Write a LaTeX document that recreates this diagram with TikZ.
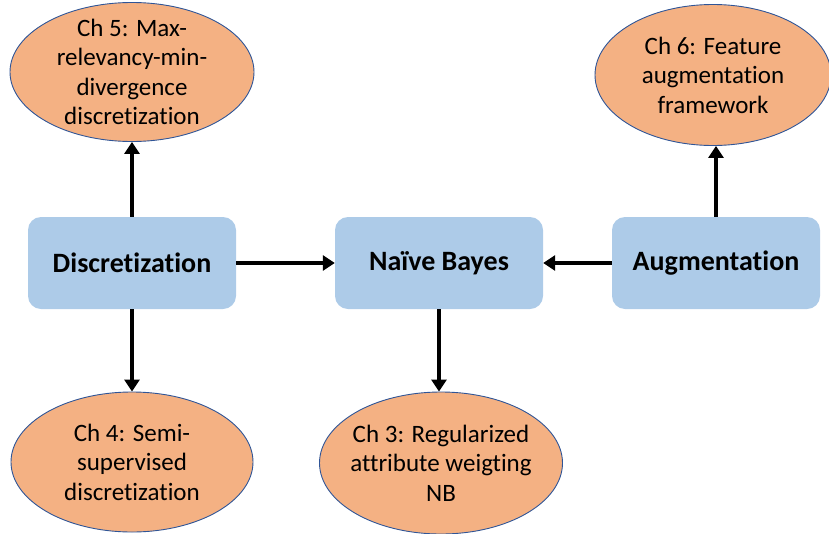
\documentclass[tikz,border=0pt]{standalone}
\usepackage{fontspec}
\setmainfont{Carlito}[Ligatures=NoCommon]
\usetikzlibrary{shapes.geometric,arrows.meta}
\definecolor{boxblue}{RGB}{173,203,232}
\definecolor{ellorange}{RGB}{244,177,131}
\definecolor{ellline}{RGB}{47,85,151}
\tikzset{
  box/.style={draw=none,fill=boxblue,rounded corners=13pt,minimum width=208pt,minimum height=92pt,inner sep=0pt,font=\fontsize{28}{32}\selectfont\bfseries},
  chap/.style={ellipse,draw=ellline,line width=0.9pt,fill=ellorange,inner sep=-30pt,align=center,font=\fontsize{25}{29.5}\selectfont},
  conn/.style={line width=4pt,-{Triangle[length=12pt,width=15pt]}}
}
\begin{document}
\begin{tikzpicture}[x=1pt,y=-1pt]
\useasboundingbox (0,0) rectangle (829,533);
\node[box] (disc) at (132,263) {Discretization};
\node[box] (nb) at (439,263) {Naïve Bayes};
\node[box] (aug) at (716,263) {Augmentation};
\node[chap,minimum width=244pt,minimum height=139pt] (c5) at (132,72) {Ch 5: Max-\\relevancy-min-\\divergence\\discretization};
\node[chap,minimum width=236pt,minimum height=141pt] (c6) at (713,75) {Ch 6: Feature\\augmentation\\framework};
\node[chap,minimum width=242pt,minimum height=140pt] (c4) at (132,462) {Ch 4: Semi-\\supervised\\discretization};
\node[chap,minimum width=243pt,minimum height=142pt] (c3) at (441,463) {Ch 3: Regularized\\attribute weigting\\NB};
\draw[conn] (disc.north) -- (disc.north |- c5.south);
\draw[conn] (disc.south) -- (disc.south |- c4.north);
\draw[conn] (disc.east) -- (nb.west);
\draw[conn] (aug.west) -- (nb.east);
\draw[conn] (nb.south) -- (nb.south |- c3.north);
\draw[conn] (aug.north) -- (aug.north |- c6.south);
\end{tikzpicture}
\end{document}
